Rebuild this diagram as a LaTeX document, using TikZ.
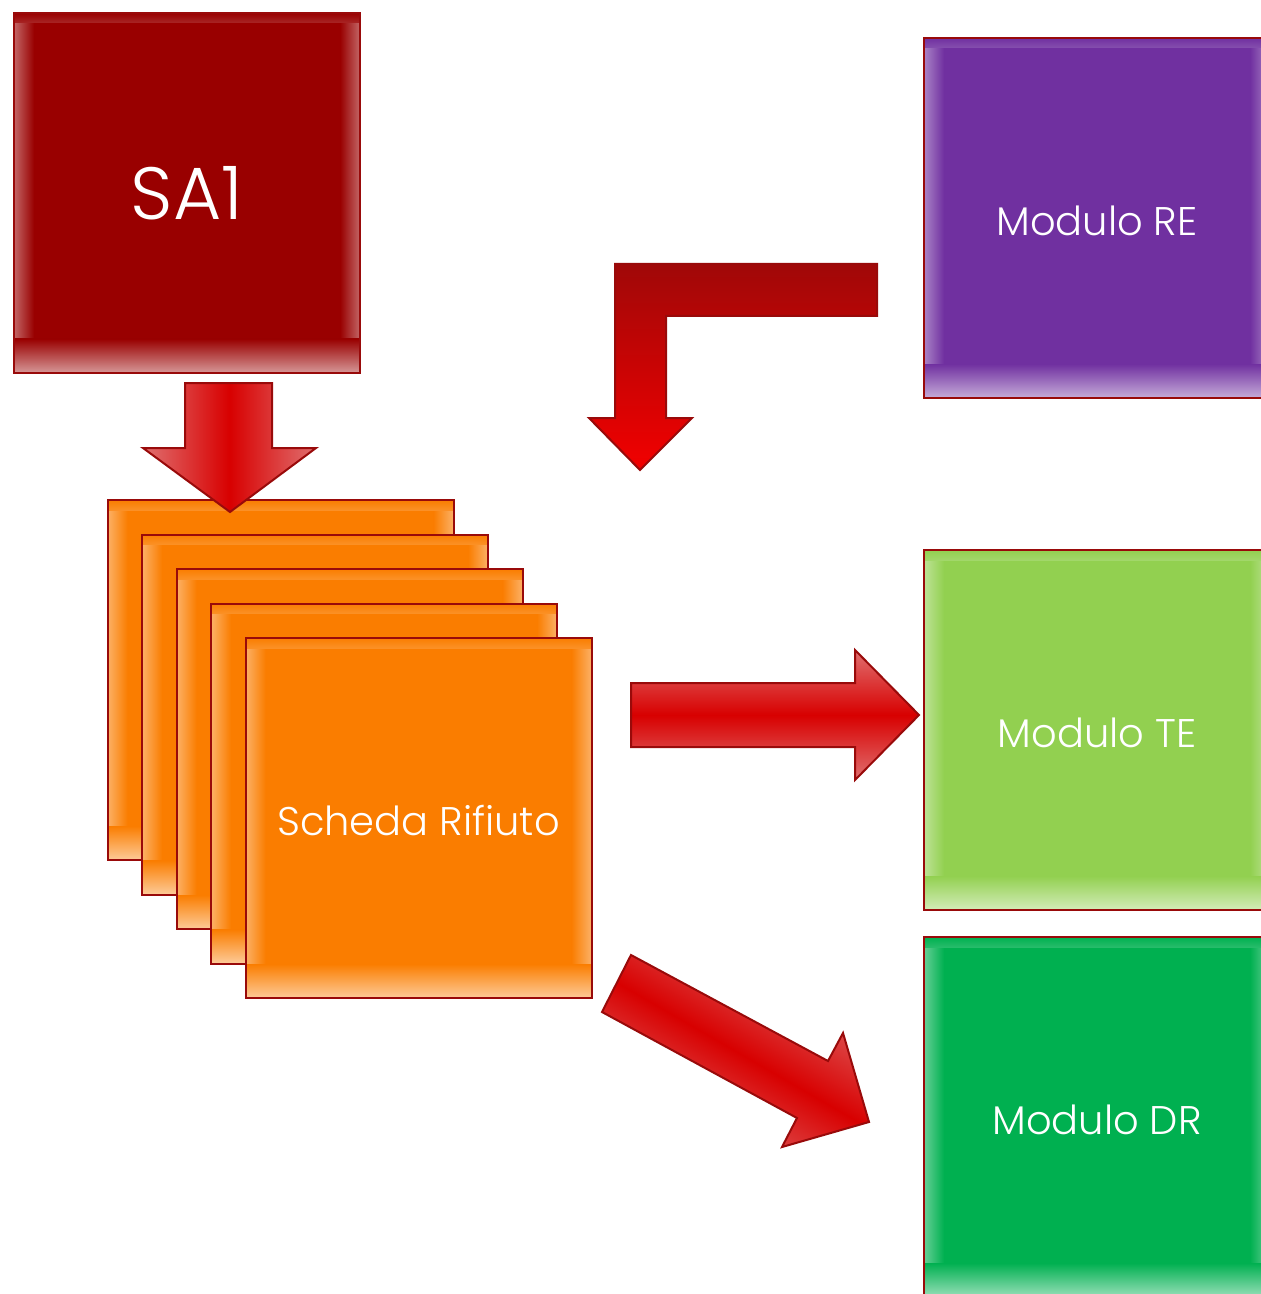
\documentclass[tikz,border=0pt]{standalone}
\usepackage{fontspec}
\setmainfont{Poppins Light}
\definecolor{edgered}{HTML}{990A0A}
\definecolor{saRed}{HTML}{990000}
\definecolor{cardOrange}{HTML}{FA7D00}
\definecolor{rePurple}{HTML}{7030A0}
\definecolor{teGreen}{HTML}{92D050}
\definecolor{drGreen}{HTML}{00B050}
\definecolor{arrRed}{HTML}{D80000}
\definecolor{arrLight}{HTML}{E07070}
\definecolor{arrDark}{HTML}{A00808}
\tikzset{
  card/.style={fill=#1, minimum width=173pt, minimum height=180pt, inner sep=0pt, outer sep=0pt},
  label/.style={text=white, font=\fontsize{20}{24}\selectfont},
  blockarrow/.style={draw=edgered, line width=1pt}
}
% box with a soft light rim: name, x, y, colour, text
\newcommand\modbox[5]{
  \node[card=#4] (#1) at (#2,#3) {};
  \shade[left color=#4!60!white, right color=#4] (#1.south west) rectangle ([xshift=10pt]#1.north west);
  \shade[right color=#4!60!white, left color=#4] (#1.south east) rectangle ([xshift=-10pt]#1.north east);
  \shade[bottom color=#4!85!white, top color=#4] (#1.north west) rectangle ([yshift=-5pt]#1.north east);
  \shade[top color=#4, bottom color=#4!40!white] (#1.south west) rectangle ([yshift=17pt]#1.south east);
  \draw[edgered, line width=1pt] (#1.south west) rectangle (#1.north east);
  \node[label] (#1-text) at ([yshift=-1.5pt]#1.center) {#5};
}
\begin{document}
\begin{tikzpicture}[x=0.5pt, y=-0.5pt]
\clip (0,0) rectangle (1261,1294);
\fill[white] (0,0) rectangle (1261,1294);
% source box
\modbox{sa}{187}{193}{saRed}{}
\node[label, font=\fontsize{37}{42}\selectfont] (sa-name) at (sa.center) {SA1};
% stack of cards
\foreach \i in {0,...,3}
  \modbox{c\i}{280.5+34.5*\i}{680+34.5*\i}{cardOrange}{};
\modbox{scheda}{418.5}{818}{cardOrange}{Scheda Rifiuto}
% modules
\modbox{re}{1097}{218}{rePurple}{Modulo RE}
\modbox{te}{1097}{730}{teGreen}{Modulo TE}
\modbox{dr}{1097}{1117}{drGreen}{Modulo DR}
% arrows
\shade[blockarrow, left color=arrLight, right color=arrLight, middle color=arrRed] (185,383) -- (272,383) -- (272,448) -- (316,448) -- (230,512) -- (143,448) -- (185,448) -- cycle;
\shade[blockarrow, top color=arrDark, bottom color=red!95!black] (615,264) -- (877,264) -- (877,316) -- (666,316) -- (666,418) -- (692,418) -- (640,470) -- (589,418) -- (615,418) -- cycle;
\shade[blockarrow, top color=arrLight, bottom color=arrLight, middle color=arrRed] (631,683) -- (855,683) -- (855,650) -- (919,715) -- (855,780) -- (855,747) -- (631,747) -- cycle;
\shade[blockarrow, top color=arrLight, bottom color=arrLight, middle color=arrRed, shading angle=-30] (631,955) -- (828,1061) -- (843,1033) -- (869,1122) -- (782,1147) -- (797,1118) -- (602,1012) -- cycle;
\end{tikzpicture}
\end{document}
